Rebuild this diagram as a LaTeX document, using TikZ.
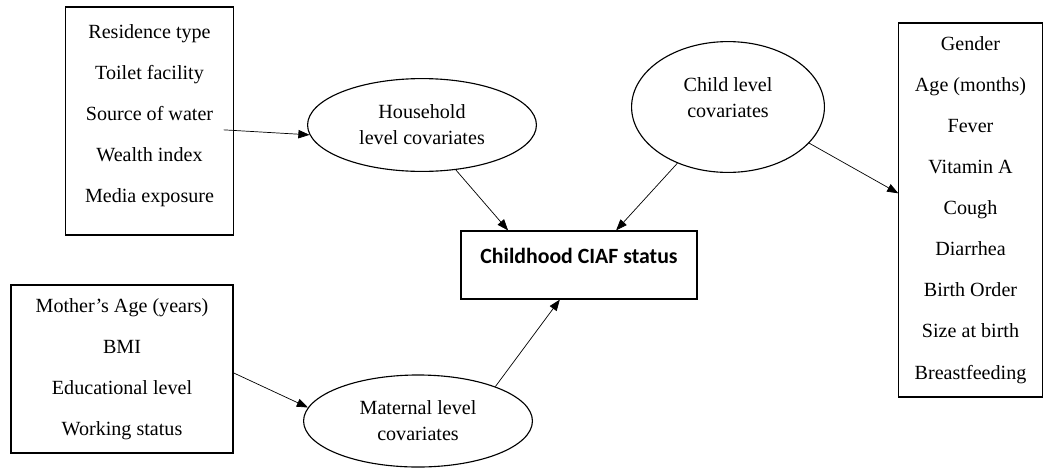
\documentclass[tikz,border=0pt]{standalone}
\usepackage{fontspec}
\setmainfont{Liberation Serif}
\newfontfamily\ciaffont{Carlito}
\usetikzlibrary{shapes.geometric,arrows.meta}

\begin{document}
\begin{tikzpicture}[x=0.025cm,y=-0.025cm,
        listbox/.style={draw,line width=0.8pt,align=center,inner sep=0pt,font=\fontsize{14.3}{29.2}\selectfont},
        level/.style={draw,ellipse,line width=0.8pt,align=center,inner sep=0pt,font=\fontsize{14.3}{18.5}\selectfont},
        arr/.style={-{Triangle[length=2.8mm,width=2.1mm]},line width=0.5pt}]
        \useasboundingbox (0,0) rectangle (1044,468);
        % boxes of covariates
        \node[listbox,minimum width=4.18cm,minimum height=5.7cm,text depth=11pt] (hhbox) at (149.5,121)
            {Residence type\\Toilet facility\\Source of water\\Wealth index\\Media exposure};
        \node[listbox,minimum width=5.55cm,minimum height=4.2cm] (mbox) at (122,369)
            {Mother’s Age (years)\\BMI\\Educational level\\Working status};
        \node[listbox,minimum width=3.58cm,minimum height=9.35cm] (childbox) at (970.5,210)
            {Gender\\Age (months)\\Fever\\Vitamin A\\Cough\\Diarrhea\\Birth Order\\Size at birth\\Breastfeeding};
        % levels
        \node[level,minimum width=5.72cm,minimum height=2.32cm] (hhell) at (422,125) {Household\\level covariates};
        \node[level,minimum width=4.82cm,minimum height=3.27cm,text depth=13pt] (childell) at (728,107) {Child level\\covariates};
        \node[level,minimum width=5.72cm,minimum height=2.3cm] (mell) at (418,421) {Maternal level\\covariates};
        \node[draw,line width=0.8pt,minimum width=5.9cm,minimum height=1.7cm,text height=0.3cm,text depth=0.4cm,
            font=\ciaffont\bfseries\fontsize{15.5}{18}\selectfont] (ciaf) at (579,265) {Childhood CIAF status};
        % arrows
        \draw[arr] ([xshift=-0.25cm]hhbox.354) -- (hhell.185);
        \draw[arr] (hhell.307) -- (ciaf.154);
        \draw[arr] (childell.228) -- (ciaf.43);
        \draw[arr] (childell.336) -- (childbox.167);
        \draw[arr] (mbox.358) -- (mell.173);
        \draw[arr] (mell.24) -- (ciaf.241);
    \end{tikzpicture}
\end{document}
